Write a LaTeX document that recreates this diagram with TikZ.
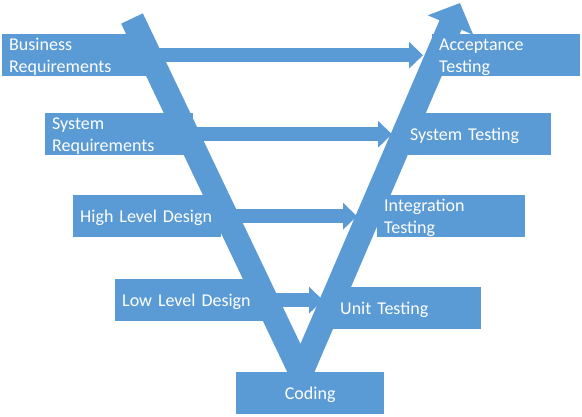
\documentclass[tikz,border=0pt]{standalone}
\usepackage{fontspec}
\setmainfont{Carlito}
\usetikzlibrary{arrows.meta}
\definecolor{vblue}{RGB}{91,155,213}

\begin{document}
\begin{tikzpicture}[x=1pt,y=-1pt,
  stage/.style={fill=vblue,text=white,inner xsep=7pt,inner ysep=0pt,anchor=north west,
    align=left,text width=134pt,text depth=0pt,minimum height=42pt,font=\fontsize{18}{22}\selectfont},
  twoline/.style={text depth=21pt},
  link/.style={draw=vblue,line width=14pt,-{Triangle[width=26pt,length=14pt]}}]
  \useasboundingbox (0,0) rectangle (582,416);
  % the V
  \coordinate (vtop) at (132,18.5);
  \coordinate (vbot) at (301,373);
  \coordinate (vtip) at (460,3);
  \draw[vblue,line width=24pt,-{Triangle[width=48pt,length=24pt]}] (vtop) -- (vbot) -- (vtip);
  % left side
  \node[stage,twoline] (brq) at (2,34) {Business\\Requirements};
  \node[stage,twoline] (srq) at (45,113) {System\\Requirements};
  \node[stage] (hld) at (73,195) {High Level Design};
  \node[stage] (lld) at (115,279) {Low Level Design};
  % bottom
  \node[stage,align=center] (cod) at (236,372) {Coding};
  % right side
  \node[stage,twoline] (act) at (432,34) {Acceptance\\Testing};
  \node[stage] (sts) at (403,113) {System Testing};
  \node[stage,twoline] (its) at (377,195) {Integration\\Testing};
  \node[stage] (uts) at (333,287) {Unit Testing};
  % arrows across
  \draw[link,shorten >=9pt] (brq.east) -- (brq.east -| act.west);
  \draw[link,shorten >=11pt] (srq.east) -- (srq.east -| sts.west);
  \draw[link,shorten >=20pt] (hld.east) -- (hld.east -| its.west);
  \draw[link,shorten >=10pt] (lld.east) -- (lld.east -| uts.west);
\end{tikzpicture}
\end{document}
